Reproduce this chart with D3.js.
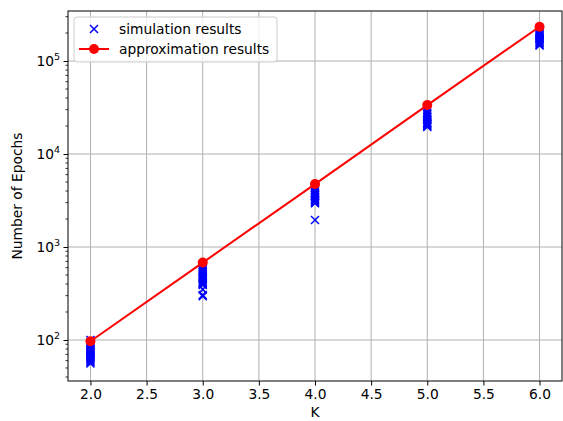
<!DOCTYPE html>
<html>
<head>
<meta charset="utf-8">
<script src="https://cdn.jsdelivr.net/npm/d3@7"></script>
<style>
  body { margin: 0; background: #fff; }
  text { font-family: "DejaVu Sans", sans-serif; fill: #000; }
</style>
</head>
<body>
<div id="chart"></div>
<script>
const width = 563;
const height = 421;
const margin = { top: 11, right: 1, bottom: 40, left: 68 };
const fs = "13.8px";

// K values
const kValues = [2, 3, 4, 5, 6];

// approximation results (one per K)
const approxValues = [97, 680, 4750, 33600, 234000];

// simulation results, several runs per K
const simK2 = [100, 95, 90, 86, 83, 80, 78, 76, 74, 72, 70, 68, 66, 64, 62, 60, 58, 56];
const simK3 = [640, 610, 580, 560, 540, 520, 500, 480, 465, 450, 440, 425, 410, 400, 390, 350, 305, 295];
const simK4 = [4300, 4100, 3950, 3800, 3700, 3600, 3500, 3400, 3300, 3200, 3100, 3000, 2950, 1950];
const simK5 = [29500, 28000, 27000, 26000, 25000, 24000, 23000, 22000, 21500, 21000, 20500, 20000, 19500];
const simK6 = [210000, 205000, 200000, 195000, 190000, 185000, 180000, 175000, 170000, 165000, 160000, 155000, 150000, 147000];

const xTicks = [2.0, 2.5, 3.0, 3.5, 4.0, 4.5, 5.0, 5.5, 6.0];
const yTicks = [1e2, 1e3, 1e4, 1e5];

const simPoints = [];
[simK2, simK3, simK4, simK5, simK6].forEach((arr, i) => {
    arr.forEach(v => simPoints.push({ k: kValues[i], v: v }));
});
const approxPoints = kValues.map((k, i) => ({ k: k, v: approxValues[i] }));

const innerW = width - margin.left - margin.right;
const innerH = height - margin.top - margin.bottom;

const x = d3.scaleLinear().domain([1.8, 6.2]).range([0, innerW]);
const y = d3.scaleLog().domain([Math.pow(10, 1.559), Math.pow(10, 5.538)]).range([innerH, 0]);

const svg = d3.select("#chart")
    .append("svg")
    .attr("width", width)
    .attr("height", height);

const g = svg.append("g").attr("transform", `translate(${margin.left},${margin.top})`);

// grid
g.append("g").selectAll("line")
    .data(xTicks)
    .join("line")
    .attr("x1", d => x(d)).attr("x2", d => x(d))
    .attr("y1", 0).attr("y2", innerH)
    .attr("stroke", "#b0b0b0").attr("stroke-width", 1);
g.append("g").selectAll("line")
    .data(yTicks)
    .join("line")
    .attr("x1", 0).attr("x2", innerW)
    .attr("y1", d => y(d)).attr("y2", d => y(d))
    .attr("stroke", "#b0b0b0").attr("stroke-width", 1);

// x axis
const xAxis = g.append("g")
    .attr("transform", `translate(0,${innerH})`)
    .call(d3.axisBottom(x).tickValues(xTicks).tickFormat(d3.format(".1f")).tickSizeInner(4.5).tickSizeOuter(0).tickPadding(4));
xAxis.select(".domain").remove();
xAxis.selectAll("text").style("font-size", fs).style("font-family", "DejaVu Sans");
xAxis.selectAll("line").attr("stroke-width", 1);

// y axis: minor ticks
const minorTicks = [];
for (let e = 1; e <= 5; e++) {
    for (let m = 2; m <= 9; m++) {
        const v = m * Math.pow(10, e);
        if (v >= y.domain()[0] && v <= y.domain()[1]) minorTicks.push(v);
    }
}
g.append("g").selectAll("line")
    .data(minorTicks)
    .join("line")
    .attr("x1", -2.5).attr("x2", 0)
    .attr("y1", d => y(d)).attr("y2", d => y(d))
    .attr("stroke", "#000").attr("stroke-width", 0.8);

const yAxis = g.append("g")
    .call(d3.axisLeft(y).tickValues(yTicks).tickFormat("").tickSizeInner(4.5).tickSizeOuter(0));
yAxis.select(".domain").remove();
yAxis.selectAll("line").attr("stroke-width", 1);

const yLabels = g.append("g").selectAll("text")
    .data(yTicks)
    .join("text")
    .attr("x", -8)
    .attr("y", d => y(d) + 5)
    .attr("text-anchor", "end")
    .style("font-size", fs);
yLabels.append("tspan").text("10");
yLabels.append("tspan")
    .attr("dy", -6)
    .style("font-size", "9.5px")
    .text(d => Math.round(Math.log10(d)));

// frame
g.append("rect")
    .attr("width", innerW).attr("height", innerH)
    .attr("fill", "none").attr("stroke", "#000").attr("stroke-width", 1);

// axis labels
svg.append("text")
    .attr("x", margin.left + innerW / 2)
    .attr("y", 417)
    .attr("text-anchor", "middle")
    .style("font-size", fs)
    .text("K");
svg.append("text")
    .attr("transform", `translate(22,${margin.top + innerH / 2}) rotate(-90)`)
    .attr("text-anchor", "middle")
    .style("font-size", fs)
    .text("Number of Epochs");

// simulation markers
const xMark = 4;
const sim = g.append("g");
sim.selectAll("path")
    .data(simPoints)
    .join("path")
    .attr("d", d => {
        const cx = x(d.k), cy = y(d.v);
        return `M${cx - xMark},${cy - xMark}L${cx + xMark},${cy + xMark}M${cx - xMark},${cy + xMark}L${cx + xMark},${cy - xMark}`;
    })
    .attr("stroke", "#0000ff")
    .attr("stroke-width", 1.5)
    .attr("fill", "none");

// approximation line
const line = d3.line().x(d => x(d.k)).y(d => y(d.v));
g.append("path")
    .datum(approxPoints)
    .attr("d", line)
    .attr("fill", "none")
    .attr("stroke", "#ff0000")
    .attr("stroke-width", 2);
g.append("g").selectAll("circle")
    .data(approxPoints)
    .join("circle")
    .attr("cx", d => x(d.k))
    .attr("cy", d => y(d.v))
    .attr("r", 5)
    .attr("fill", "#ff0000");

// legend
const legend = svg.append("g").attr("transform", "translate(74,17)");
legend.append("rect")
    .attr("width", 203).attr("height", 45)
    .attr("rx", 3)
    .attr("fill", "#fff").attr("fill-opacity", 0.8)
    .attr("stroke", "#cccccc").attr("stroke-width", 1);
legend.append("path")
    .attr("d", `M${20 - xMark},${12 - xMark}L${20 + xMark},${12 + xMark}M${20 - xMark},${12 + xMark}L${20 + xMark},${12 - xMark}`)
    .attr("stroke", "#0000ff").attr("stroke-width", 1.5);
legend.append("line")
    .attr("x1", 5).attr("x2", 35).attr("y1", 32).attr("y2", 32)
    .attr("stroke", "#ff0000").attr("stroke-width", 2);
legend.append("circle")
    .attr("cx", 20).attr("cy", 32).attr("r", 5).attr("fill", "#ff0000");
legend.append("text").attr("x", 45).attr("y", 17).style("font-size", fs).text("simulation results");
legend.append("text").attr("x", 45).attr("y", 37).style("font-size", fs).text("approximation results");
</script>
</body>
</html>
